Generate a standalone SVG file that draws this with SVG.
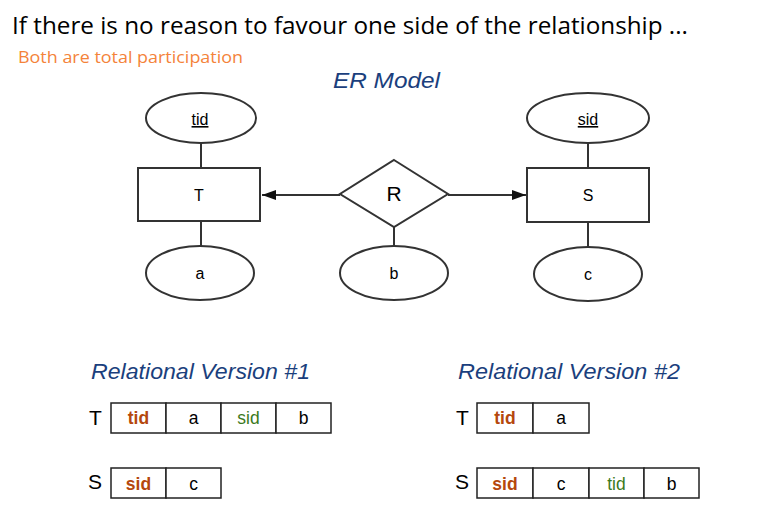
<svg xmlns="http://www.w3.org/2000/svg" width="775" height="527" viewBox="0 0 775 527">
<defs>
<style>
.shape{fill:#fff;stroke:#333;stroke-width:2}
.line{stroke:#333;stroke-width:2;fill:none}
.lbl{font-family:"Liberation Sans",Arial,sans-serif;font-size:16px;fill:#000;text-anchor:middle}
.tl{font-size:17.5px}
.big{font-family:"Liberation Sans",Arial,sans-serif;font-size:21px;fill:#000}
.hdr{font-family:"Liberation Sans",Arial,sans-serif;font-style:italic;font-size:22px;fill:#1b3f7d}
.cell{fill:#fff;stroke:#222;stroke-width:1.5}
.key{font-weight:bold;fill:#b5480d}
.fk{fill:#3c7a1c}
</style>
<marker id="arr" viewBox="0 0 14 10" refX="14" refY="5" markerWidth="14" markerHeight="10" markerUnits="userSpaceOnUse" orient="auto">
<path d="M0,0 L14,5 L0,10 Z" fill="#111"/>
</marker>
</defs>
<rect width="775" height="527" fill="#fff"/>
<text x="12" y="34" font-family="'Open Sans',Lato,sans-serif" font-size="23" fill="#000" textLength="676" lengthAdjust="spacingAndGlyphs">If there is no reason to favour one side of the relationship ...</text>
<text x="18" y="63" font-family="'Open Sans',sans-serif" font-size="17" fill="#f4833a" textLength="225" lengthAdjust="spacingAndGlyphs">Both are total participation</text>
<text x="333" y="88" class="hdr" textLength="107" lengthAdjust="spacingAndGlyphs">ER Model</text>

<g id="connectors">
<line class="line" x1="201" y1="143" x2="201" y2="167"/>
<line class="line" x1="201" y1="221" x2="201" y2="246"/>
<line class="line" x1="588" y1="143" x2="588" y2="168"/>
<line class="line" x1="588" y1="222" x2="588" y2="247"/>
<line class="line" x1="394" y1="227" x2="394" y2="246"/>
<line class="line" x1="340" y1="195" x2="262" y2="195" marker-end="url(#arr)"/>
<line class="line" x1="448" y1="195" x2="526" y2="195" marker-end="url(#arr)"/>
</g>

<g id="attr-tid"><ellipse class="shape" cx="201" cy="118" rx="55" ry="25"/><text class="lbl" x="200" y="125" text-decoration="underline">tid</text></g>
<g id="entity-T"><rect class="shape" x="138" y="168" width="122" height="53"/><text class="lbl" x="199" y="201">T</text></g>
<g id="attr-a"><ellipse class="shape" cx="200" cy="273" rx="54" ry="27"/><text class="lbl" x="200" y="279">a</text></g>
<g id="rel-R"><polygon class="shape" points="394,160 448,194 394,227 340,194"/><text class="big" x="394" y="201" text-anchor="middle">R</text></g>
<g id="attr-b"><ellipse class="shape" cx="394" cy="273" rx="54" ry="27"/><text class="lbl" x="394" y="279">b</text></g>
<g id="attr-sid"><ellipse class="shape" cx="588" cy="118" rx="61" ry="25"/><text class="lbl" x="588" y="125" text-decoration="underline">sid</text></g>
<g id="entity-S"><rect class="shape" x="527" y="168" width="122" height="54"/><text class="lbl" x="588" y="201">S</text></g>
<g id="attr-c"><ellipse class="shape" cx="588" cy="274" rx="54" ry="27"/><text class="lbl" x="588" y="280">c</text></g>

<text class="hdr" x="91" y="379" textLength="219" lengthAdjust="spacingAndGlyphs">Relational Version #1</text>
<text class="hdr" x="458" y="379" textLength="222" lengthAdjust="spacingAndGlyphs">Relational Version #2</text>

<g id="v1-T">
<text class="big" x="89" y="425">T</text>
<rect class="cell" x="111" y="403" width="55" height="30"/><rect class="cell" x="166" y="403" width="55" height="30"/><rect class="cell" x="221" y="403" width="55" height="30"/><rect class="cell" x="276" y="403" width="55" height="30"/>
<text class="lbl tl key" x="138.5" y="424">tid</text><text class="lbl tl" x="193.5" y="424">a</text><text class="lbl tl fk" x="248.5" y="424">sid</text><text class="lbl tl" x="303.5" y="424">b</text>
</g>
<g id="v1-S">
<text class="big" x="88" y="489">S</text>
<rect class="cell" x="111" y="468" width="55" height="30"/><rect class="cell" x="166" y="468" width="55" height="30"/>
<text class="lbl tl key" x="138.5" y="490">sid</text><text class="lbl tl" x="193.5" y="490">c</text>
</g>
<g id="v2-T">
<text class="big" x="456" y="425">T</text>
<rect class="cell" x="477" y="403" width="56" height="30"/><rect class="cell" x="533" y="403" width="56" height="30"/>
<text class="lbl tl key" x="505" y="424">tid</text><text class="lbl tl" x="561" y="424">a</text>
</g>
<g id="v2-S">
<text class="big" x="455" y="489">S</text>
<rect class="cell" x="477" y="468" width="56" height="30"/><rect class="cell" x="533" y="468" width="56" height="30"/><rect class="cell" x="589" y="468" width="55" height="30"/><rect class="cell" x="644" y="468" width="55" height="30"/>
<text class="lbl tl key" x="505" y="490">sid</text><text class="lbl tl" x="561" y="490">c</text><text class="lbl tl fk" x="616.5" y="490">tid</text><text class="lbl tl" x="671.5" y="490">b</text>
</g>
</svg>
